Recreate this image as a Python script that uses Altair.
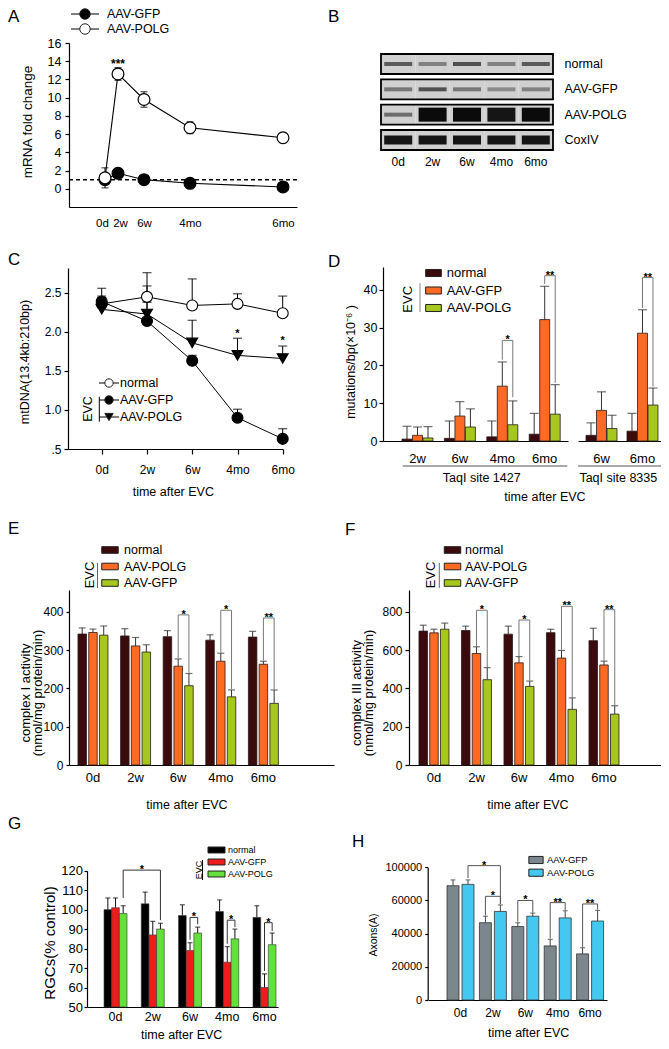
import altair as alt
import pandas as pd

FONT = "Liberation Sans"
W, H = 653, 1033


def P(v):
    return v - 8


ONE = pd.DataFrame({"k": [0]})

# ---------------- DATA ----------------
time_labels = ["0d", "2w", "6w", "4mo", "6mo"]
time_days = [0, 14, 42, 120, 180]

# A: mRNA fold change
a_series = ["AAV-GFP", "AAV-POLG"]
a_gfp = [1.0, 1.7, 1.0, 0.6, 0.2]
a_gfp_sd = [0.3, 0.2, 0.4, 0.15, 0.2]
a_polg = [1.2, 12.6, 9.8, 6.7, 5.6]
a_polg_sd = [1.1, 0.7, 0.85, 0.65, 0.55]

# B: western blot band intensity (0..1)
blot_rows = ["normal", "AAV-GFP", "AAV-POLG", "CoxIV"]
blot_lanes = ["0d", "2w", "6w", "4mo", "6mo"]
blot_normal = [0.6, 0.4, 0.65, 0.4, 0.6]
blot_gfp = [0.45, 0.65, 0.45, 0.35, 0.4]
blot_polg = [0.5, 1.0, 1.0, 0.95, 1.0]
blot_cox = [0.95, 0.95, 0.95, 0.95, 0.95]

# C: mtDNA integrity
c_series = ["normal", "AAV-GFP", "AAV-POLG"]
c_normal = [2.36, 2.45, 2.34, 2.36, 2.24]
c_normal_sd = [0.20, 0.31, 0.34, 0.13, 0.22]
c_gfp = [2.39, 2.14, 1.63, 0.90, 0.63]
c_gfp_sd = [0.07, 0.24, 0.07, 0.11, 0.13]
c_polg = [2.29, 2.23, 1.86, 1.70, 1.66]
c_polg_sd = [0.15, 0.36, 0.29, 0.22, 0.16]
c_stars = [(120, 1.94, "*"), (180, 1.85, "*")]

# D: mutations/bp
d_series = ["normal", "AAV-GFP", "AAV-POLG"]
d1_cats = ["2w", "6w", "4mo", "6mo"]
d1_normal = [0.5, 0.7, 1.1, 1.8]
d1_normal_sd = [3.4, 4.6, 4.2, 5.5]
d1_gfp = [1.5, 6.6, 14.5, 32.1]
d1_gfp_sd = [2.2, 3.8, 6.4, 8.8]
d1_polg = [0.8, 3.7, 4.3, 7.1]
d1_polg_sd = [3.0, 4.8, 6.3, 7.8]
d2_cats = ["6w", "6mo"]
d2_normal = [1.5, 2.6]
d2_normal_sd = [3.3, 4.7]
d2_gfp = [8.1, 28.5]
d2_gfp_sd = [4.9, 6.2]
d2_polg = [3.3, 9.5]
d2_polg_sd = [3.5, 4.5]
d1_brackets = [("4mo", "AAV-GFP", 21.5, "4mo", "AAV-POLG", 11.6, 26.6, "*"),
               ("6mo", "AAV-GFP", 41.5, "6mo", "AAV-POLG", 15.4, 43.7, "**")]
d2_brackets = [("6mo", "AAV-GFP", 35.2, "6mo", "AAV-POLG", 14.4, 43.2, "**")]

# E: complex I activity
e_series = ["normal", "AAV-POLG", "AAV-GFP"]
e_normal = [342, 337, 335, 326, 334]
e_normal_sd = [16, 19, 16, 14, 15]
e_polg = [346, 311, 258, 271, 263]
e_polg_sd = [9, 22, 19, 21, 8]
e_gfp = [339, 295, 207, 178, 161]
e_gfp_sd = [24, 19, 32, 18, 35]
e_brackets = [("6w", "AAV-POLG", 279, "6w", "AAV-GFP", 241, 392, "*"),
              ("4mo", "AAV-POLG", 294, "4mo", "AAV-GFP", 198, 404, "*"),
              ("6mo", "AAV-POLG", 273, "6mo", "AAV-GFP", 198, 384, "**")]

# F: complex III activity
f_normal = [700, 703, 684, 692, 650]
f_normal_sd = [31, 23, 42, 18, 65]
f_polg = [691, 583, 534, 559, 523]
f_polg_sd = [19, 35, 33, 40, 20]
f_gfp = [710, 446, 411, 291, 266]
f_gfp_sd = [32, 63, 28, 60, 44]
f_brackets = [("2w", "AAV-POLG", 622, "2w", "AAV-GFP", 512, 809, "*"),
              ("6w", "AAV-POLG", 570, "6w", "AAV-GFP", 442, 758, "*"),
              ("4mo", "AAV-POLG", 602, "4mo", "AAV-GFP", 354, 830, "**"),
              ("6mo", "AAV-POLG", 546, "6mo", "AAV-GFP", 313, 812, "**")]

# G: RGCs
g_series = ["normal", "AAV-GFP", "AAV-POLG"]
g_normal = [100, 103, 97, 99, 96]
g_normal_sd = [6, 6, 5.5, 6, 6]
g_gfp = [101, 87, 79, 73, 60]
g_gfp_sd = [5, 7, 4, 8, 7]
g_polg = [98, 90, 88, 85, 82]
g_polg_sd = [4, 3, 3, 5, 6]
g_brackets = [("0d", "AAV-POLG", 106, "2w", "AAV-POLG", 94.6, 120.3, "*"),
              ("6w", "AAV-GFP", 84.5, "6w", "AAV-POLG", 92.5, 96, "*"),
              ("4mo", "AAV-GFP", 82.5, "4mo", "AAV-POLG", 91, 94.6, "*"),
              ("6mo", "AAV-GFP", 68.5, "6mo", "AAV-POLG", 89, 93.3, "*")]

# H: axons
h_series = ["AAV-GFP", "AAV-POLG"]
h_gfp = [68900, 46600, 44300, 32600, 27800]
h_gfp_sd = [3500, 3900, 2300, 3900, 3700]
h_polg = [69700, 53400, 50500, 49500, 47600]
h_polg_sd = [2700, 3900, 1900, 4300, 6400]
h_brackets = [("0d", "AAV-POLG", 73500, "2w", "AAV-POLG", 58000, 81000, "*"),
              ("2w", "AAV-GFP", 51000, "2w", "AAV-POLG", 57800, 62500, "*"),
              ("6w", "AAV-GFP", 47200, "6w", "AAV-POLG", 52800, 60000, "*"),
              ("4mo", "AAV-GFP", 37000, "4mo", "AAV-POLG", 54300, 58700, "**"),
              ("6mo", "AAV-GFP", 32000, "6mo", "AAV-POLG", 54500, 57900, "**")]
h_tick_values = [0, 20000, 40000, 60000, 80000]
h_tick_labels = ["0", "20000", "40000", "60000", "100000"]

# colours
DEF_COL = {"normal": "#3b0a0c", "orange": "#fd6a24", "green": "#a6c81e"}
G_COL = ["#000000", "#ee1c1c", "#63e03c"]
H_COL = ["#7b878c", "#44c8f0"]


# ---------------- helpers ----------------
def lbl_expr(values, labels):
    parts = [f"datum.value == {v} ? '{l}'" for v, l in zip(values, labels)]
    return " : ".join(parts) + " : ''"


def ax_y(x_img, fs, values, expr=None, tick=4, pad=3):
    kw = dict(orient="left", offset=-P(x_img), values=values, grid=False, title=None,
              domainColor="black", domainWidth=1.2, tickColor="black", tickWidth=1.2,
              tickSize=tick, labelColor="black", labelFont=FONT, labelFontSize=fs,
              labelPadding=pad, labelFlush=False, labelOverlap=False)
    if expr is not None:
        kw["labelExpr"] = expr
    return alt.Axis(**kw)


def ax_x(y_img, fs, values=None, expr=None, tick=0, pad=5, label_offset=None):
    kw = dict(orient="bottom", offset=P(y_img) - H, grid=False, title=None, labelAngle=0,
              domain=True, domainColor="black", domainWidth=1.2, ticks=tick > 0,
              tickColor="black", tickWidth=1.2, tickSize=tick, labelColor="black",
              labelFont=FONT, labelFontSize=fs, labelPadding=pad, labelFlush=False,
              labelOverlap=False)
    if values is not None:
        kw["values"] = values
    if expr is not None:
        kw["labelExpr"] = expr
    if label_offset is not None:
        kw["labelOffset"] = label_offset
    return alt.Axis(**kw)


def text(s, x, y, fs, angle=0, align="left", baseline="alphabetic", weight="normal", color="black"):
    kw = dict(text=s, font=FONT, fontSize=fs, align=align, baseline=baseline,
              fontWeight=weight, color=color)
    if angle:
        kw["angle"] = angle
    return alt.Chart(ONE).mark_text(**kw).encode(x=alt.value(P(x)), y=alt.value(P(y)))


def vline(x, y0, y1, color="black", w=1):
    return alt.Chart(ONE).mark_rule(color=color, strokeWidth=w).encode(
        x=alt.value(P(x)), y=alt.value(P(y0)), y2=alt.value(P(y1)))


def hline(x0, x1, y, color="black", w=1):
    return alt.Chart(ONE).mark_rule(color=color, strokeWidth=w).encode(
        x=alt.value(P(x0)), x2=alt.value(P(x1)), y=alt.value(P(y)))


def rect_path(r):
    return f"M-1,-{r}H1V{r}H-1Z"


def legend(labels, y0, y1, xs, xt, fs, shapes, fills, size, stroke="#222", sw=1, line_half=0):
    df = pd.DataFrame({"lab": labels})
    ysc = alt.Scale(type="point", domain=labels, range=[P(y0), P(y1)], padding=0)
    Y = alt.Y("lab:N", scale=ysc, axis=None, sort=labels)
    out = []
    if line_half:
        out.append(alt.Chart(df).mark_rule(color="black", strokeWidth=1).encode(
            x=alt.value(P(xs - line_half)), x2=alt.value(P(xs + line_half)), y=Y))
    if not isinstance(shapes, list):
        shapes = [shapes] * len(labels)
    out.append(alt.Chart(df).mark_point(filled=True, size=size, stroke=stroke, strokeWidth=sw, opacity=1).encode(
        x=alt.value(P(xs)), y=Y,
        fill=alt.Fill("lab:N", scale=alt.Scale(domain=labels, range=fills), legend=None),
        shape=alt.Shape("lab:N", scale=alt.Scale(domain=labels, range=shapes), legend=None)))
    out.append(alt.Chart(df).mark_text(align="left", baseline="middle", font=FONT, fontSize=fs,
                                        color="black").encode(x=alt.value(P(xt)), y=Y, text="lab:N"))
    return out


def bar_panel(cats, series, vals, sds, colors, xr, pi, po, align, spi, ydom, yr, base,
              yaxis, xaxis, stroke, sw, err_color, cap, brackets, br_color, star_fs):
    out = []
    df = pd.DataFrame([{"cat": c, "ser": s, "val": v, "top": v + e}
                       for s, vs, es in zip(series, vals, sds)
                       for c, v, e in zip(cats, vs, es)])
    xs = alt.Scale(type="band", domain=cats, range=xr, paddingInner=pi, paddingOuter=po, align=align)
    xo = alt.Scale(type="band", domain=series, paddingInner=spi, paddingOuter=0)
    ys = alt.Scale(type="linear", domain=ydom, range=yr, nice=False, zero=False)

    def X(ax=None):
        return alt.X("cat:N", scale=xs, sort=cats, axis=ax)

    XO = alt.XOffset("ser:N", scale=xo, sort=series)
    out.append(alt.Chart(df).mark_rule(color=err_color, strokeWidth=1).encode(
        x=X(), xOffset=XO, y=alt.Y("val:Q", scale=ys, axis=None), y2="top:Q"))
    out.append(alt.Chart(df).mark_tick(orient="horizontal", size=cap, thickness=1.2, color=err_color).encode(
        x=X(), xOffset=XO, y=alt.Y("top:Q", scale=ys, axis=None)))
    out.append(alt.Chart(df).mark_bar(stroke=stroke, strokeWidth=sw).encode(
        x=X(xaxis), xOffset=XO, y=alt.Y("val:Q", scale=ys, axis=yaxis), y2=alt.datum(base),
        fill=alt.Fill("ser:N", scale=alt.Scale(domain=series, range=colors), legend=None)))
    if brackets:
        n, m = len(cats), len(series)
        step = (xr[1] - xr[0]) / (n - pi + 2 * po)
        bw = step * (1 - pi)
        sstep = bw / (m - spi)
        rows = []
        for i, (c1, s1, l1, c2, s2, l2, top, lab) in enumerate(brackets):
            rows += [dict(b=i, o=0, cat=c1, ser=s1, y=l1), dict(b=i, o=1, cat=c1, ser=s1, y=top),
                     dict(b=i, o=2, cat=c2, ser=s2, y=top), dict(b=i, o=3, cat=c2, ser=s2, y=l2)]
        bdf = pd.DataFrame(rows)
        out.append(alt.Chart(bdf).mark_line(color=br_color, strokeWidth=1).encode(
            x=X(), xOffset=XO, y=alt.Y("y:Q", scale=ys, axis=None), detail="b:N", order="o:Q"))
        for (c1, s1, l1, c2, s2, l2, top, lab) in brackets:
            dx = (step * (cats.index(c2) - cats.index(c1)) + sstep * (series.index(s2) - series.index(s1))) / 2
            sdf = pd.DataFrame([{"cat": c1, "ser": s1, "y": top, "lab": lab}])
            out.append(alt.Chart(sdf).mark_text(dx=dx, dy=3, align="center", baseline="alphabetic",
                                                font=FONT, fontSize=star_fs, fontWeight="bold",
                                                color="black").encode(
                x=X(), xOffset=XO, y=alt.Y("y:Q", scale=ys, axis=None), text="lab:N"))
    return out


layers = []

# ================= Panel A =================
xsA = alt.Scale(type="linear", domain=[-45, 0, 14, 42, 120, 180, 200],
                range=[P(69), P(105), P(118), P(144), P(190), P(283), P(297)], nice=False, zero=False)
ysA = alt.Scale(type="linear", domain=[-2, 16], range=[P(207), P(43)], nice=False, zero=False)
dfA = pd.DataFrame([{"ser": s, "day": d, "val": v, "lo": v - e, "hi": v + e}
                    for s, vals, sds in zip(a_series, [a_gfp, a_polg], [a_gfp_sd, a_polg_sd])
                    for d, v, e in zip(time_days, vals, sds)])
XA = alt.X("day:Q", scale=xsA, axis=None)
a_label_offset = {"condition": [{"test": "datum.value == 0", "value": -3},
                                {"test": "datum.value == 14", "value": 2}], "value": 0}
layers.append(alt.Chart(ONE).mark_rule(strokeDash=[4, 3], strokeWidth=1.5, color="black").encode(
    x=alt.XDatum(-45, scale=xsA, axis=None), x2=alt.datum(200), y=alt.YDatum(1, scale=ysA, axis=None)))
layers.append(alt.Chart(dfA).mark_line(color="black", strokeWidth=1.1).encode(
    x=alt.X("day:Q", scale=xsA, axis=ax_x(207, 11.5, time_days, lbl_expr(time_days, time_labels),
                                          tick=0, pad=10, label_offset=a_label_offset)),
    y=alt.Y("val:Q", scale=ysA, axis=ax_y(69, 12.5, list(range(0, 17, 2)), tick=4, pad=4)),
    detail="ser:N"))
layers.append(alt.Chart(dfA).mark_rule(color="black", strokeWidth=1).encode(
    x=XA, y=alt.Y("lo:Q", scale=ysA, axis=None), y2="hi:Q"))
for f in ["lo", "hi"]:
    layers.append(alt.Chart(dfA).mark_tick(orient="horizontal", size=7, thickness=1.2, color="black").encode(
        x=XA, y=alt.Y(f + ":Q", scale=ysA, axis=None)))
layers.append(alt.Chart(dfA).mark_point(filled=True, size=140, stroke="black", strokeWidth=1.2, opacity=1).encode(
    x=XA, y=alt.Y("val:Q", scale=ysA, axis=None),
    fill=alt.Fill("ser:N", scale=alt.Scale(domain=a_series, range=["black", "white"]), legend=None)))
layers.append(alt.Chart(pd.DataFrame([{"day": 14, "y": 13.3, "lab": "***"}])).mark_text(
    font=FONT, fontSize=12, fontWeight="bold", align="center", baseline="alphabetic").encode(
    x=XA, y=alt.Y("y:Q", scale=ysA, axis=None), text="lab:N"))
layers += legend(a_series, 14, 29, 85, 107, 12.5, "circle", ["black", "white"], 110, line_half=14)
layers.append(text("mRNA fold change", 28, 122, 13.5, angle=270, align="center", baseline="middle"))

# ================= Panel B =================
blot_df = pd.DataFrame([{"row": r, "lane": l, "v": v}
                        for r, vals in zip(blot_rows, [blot_normal, blot_gfp, blot_polg, blot_cox])
                        for l, v in zip(blot_lanes, vals)])
bx = alt.Scale(type="band", domain=blot_lanes, range=[P(381), P(553)], paddingInner=0, paddingOuter=0)
by = alt.Scale(type="band", domain=blot_rows, range=[P(54), P(150)], paddingInner=0.21, paddingOuter=0)
axBx = alt.Axis(orient="bottom", offset=P(150) - H, domain=False, ticks=False, tickSize=0, labelPadding=6.5,
                labelFont=FONT, labelFontSize=12, labelColor="black", labelAngle=0, title=None, grid=False)
axBy = alt.Axis(orient="right", offset=P(553) - W, domain=False, ticks=False, tickSize=0, labelPadding=11,
                labelFont=FONT, labelFontSize=12.5, labelColor="black", title=None, grid=False)
layers.append(alt.Chart(blot_df).mark_rect(fill="#d0d0d0").encode(
    x=alt.X("lane:N", scale=bx, sort=blot_lanes, axis=axBx),
    y=alt.Y("row:N", scale=by, sort=blot_rows, axis=axBy)))
for r, th_thick in zip(blot_rows, [5, 5, 14, 9]):
    for strong, th in [(False, 4), (True, th_thick)]:
        test = (alt.datum.row == r) & ((alt.datum.v >= 0.8) if strong else (alt.datum.v < 0.8))
        layers.append(alt.Chart(blot_df).transform_filter(test).mark_tick(
            orient="horizontal", size=28, thickness=th, color="black").encode(
            x=alt.X("lane:N", scale=bx, sort=blot_lanes, axis=None),
            y=alt.Y("row:N", scale=by, sort=blot_rows, axis=None),
            opacity=alt.Opacity("v:Q", scale=alt.Scale(domain=[0, 1], range=[0, 0.95]), legend=None)))
layers.append(alt.Chart(pd.DataFrame({"row": blot_rows})).mark_rect(
    fill="white", fillOpacity=0, stroke="black", strokeWidth=1.8).encode(
    x=alt.value(P(381)), x2=alt.value(P(553)), y=alt.Y("row:N", scale=by, sort=blot_rows, axis=None)))

# ================= Panel C =================
xsC = alt.Scale(type="linear", domain=[-20, 0, 14, 42, 120, 180],
                range=[P(68), P(101.7), P(147), P(192.2), P(237.5), P(282.7)], nice=False, zero=False)
ysC = alt.Scale(type="linear", domain=[0.5, 2.82], range=[P(449), P(268)], nice=False, zero=False)
dfC = pd.DataFrame([{"ser": s, "day": d, "val": v, "top": v + e}
                    for s, vals, sds in zip(c_series, [c_normal, c_gfp, c_polg], [c_normal_sd, c_gfp_sd, c_polg_sd])
                    for d, v, e in zip(time_days, vals, sds)])
XC = alt.X("day:Q", scale=xsC, axis=None)
c_yv = [0.5, 1.0, 1.5, 2.0, 2.5]
layers.append(alt.Chart(dfC).mark_line(color="black", strokeWidth=1).encode(
    x=alt.X("day:Q", scale=xsC, axis=ax_x(449, 12, time_days, lbl_expr(time_days, time_labels), tick=5, pad=10)),
    y=alt.Y("val:Q", scale=ysC, axis=ax_y(68, 12, c_yv, lbl_expr(c_yv, [".5", "1.0", "1.5", "2.0", "2.5"]), tick=4, pad=3)),
    detail="ser:N"))
layers.append(alt.Chart(dfC).mark_rule(color="black", strokeWidth=1).encode(
    x=XC, y=alt.Y("val:Q", scale=ysC, axis=None), y2="top:Q"))
layers.append(alt.Chart(dfC).mark_tick(orient="horizontal", size=9, thickness=1.2, color="black").encode(
    x=XC, y=alt.Y("top:Q", scale=ysC, axis=None)))
layers.append(alt.Chart(dfC).mark_point(filled=True, size=120, stroke="black", strokeWidth=1.1, opacity=1).encode(
    x=XC, y=alt.Y("val:Q", scale=ysC, axis=None),
    fill=alt.Fill("ser:N", scale=alt.Scale(domain=c_series, range=["white", "black", "black"]), legend=None),
    shape=alt.Shape("ser:N", scale=alt.Scale(domain=c_series, range=["circle", "circle", "triangle-down"]), legend=None)))
layers.append(alt.Chart(pd.DataFrame([{"day": d, "y": y, "lab": l} for d, y, l in c_stars])).mark_text(
    font=FONT, fontSize=11, fontWeight="bold", align="center", baseline="alphabetic").encode(
    x=XC, y=alt.Y("y:Q", scale=ysC, axis=None), text="lab:N"))
layers += legend(c_series, 383, 417, 109, 120, 12.5, ["circle", "circle", "triangle-down"],
                 ["white", "black", "black"], 70, line_half=10)
layers.append(text("EVC", 88.3, 409, 12.5, angle=270, align="center", baseline="middle"))
layers.append(vline(99.3, 396.7, 421.7))
layers.append(text("mtDNA(13.4kb:210bp)", 25, 362, 12.5, angle=270, align="center", baseline="middle"))
layers.append(text("time after EVC", 173.3, 491.7, 12.5, align="center", baseline="middle"))

# ================= Panel D =================
d_cols = [DEF_COL["normal"], DEF_COL["orange"], DEF_COL["green"]]
ysD_dom, ysD_rng = [0, 46], [P(441), P(267)]
layers += bar_panel(d1_cats, d_series, [d1_normal, d1_gfp, d1_polg], [d1_normal_sd, d1_gfp_sd, d1_polg_sd],
                    d_cols, [P(383), P(568)], 0.269, 0.316, 0.709, 0.05, ysD_dom, ysD_rng, 0,
                    ax_y(383, 12.5, [0, 10, 20, 30, 40], tick=4, pad=2), ax_x(441, 13, pad=11.7),
                    "#2a1a1a", 0.8, "#333333", 9, d1_brackets, "#777777", 11)
layers += bar_panel(d2_cats, d_series, [d2_normal, d2_gfp, d2_polg], [d2_normal_sd, d2_gfp_sd, d2_polg_sd],
                    d_cols, [P(578), P(668)], 0.244, 0.22, 0.444, 0.05, ysD_dom, ysD_rng, 0,
                    None, ax_x(441, 13, pad=11.7),
                    "#2a1a1a", 0.8, "#333333", 9, d2_brackets, "#777777", 11)
layers += legend(d_series, 273, 308, 433.5, 446.7, 13, rect_path(0.45), d_cols, 246)
layers.append(text("EVC", 408.3, 299.3, 13, angle=270, align="center", baseline="middle"))
layers.append(vline(420, 283, 312, "#888888"))
layers.append(text("mutations/bp(\u00d710\u207b\u2076 )", 351, 362, 12.5, angle=270, align="center", baseline="middle"))
layers.append(hline(402.7, 567.3, 466, "#555555"))
layers.append(hline(578, 667, 466, "#555555"))
layers.append(text("TaqI site 1427", 481.7, 478, 12.5, align="center", baseline="middle"))
layers.append(text("TaqI site 8335", 618.3, 478, 12.5, align="center", baseline="middle"))
layers.append(text("time after EVC", 545, 496.7, 12.5, align="center", baseline="middle"))

# ================= Panel E =================
ef_cols = [DEF_COL["normal"], DEF_COL["orange"], DEF_COL["green"]]
layers += bar_panel(time_labels, e_series, [e_normal, e_polg, e_gfp], [e_normal_sd, e_polg_sd, e_gfp_sd],
                    ef_cols, [P(69), P(334)], 0.296, 0.758, 0.139, 0.21, [0, 457], [P(765), P(590)], 0,
                    ax_y(69, 12, [0, 100, 200, 300, 400], tick=3, pad=3), ax_x(765, 13, pad=6.5),
                    "#2a1a1a", 0.8, "#333333", 7, e_brackets, "#777777", 11)
layers += legend(e_series, 550, 583, 110, 124, 12.5, rect_path(0.4), ef_cols, 272)
layers.append(text("EVC", 90, 575, 13, angle=270, align="center", baseline="middle"))
layers.append(vline(97.5, 563, 588, "#666666"))
layers.append(text("complex I activity", 26, 693, 13, angle=270, align="center", baseline="middle"))
layers.append(text("(nmol/mg protein/min)", 38, 693, 13, angle=270, align="center", baseline="middle"))
layers.append(text("time after EVC", 187, 805, 12.5, align="center", baseline="middle"))

# ================= Panel F =================
layers += bar_panel(time_labels, e_series, [f_normal, f_polg, f_gfp], [f_normal_sd, f_polg_sd, f_gfp_sd],
                    ef_cols, [P(409), P(667)], 0.294, 0.682, 0.172, 0.21, [0, 915], [P(765), P(590)], 0,
                    ax_y(409, 12, [0, 200, 400, 600, 800], tick=4, pad=3), ax_x(765, 13, pad=6.5),
                    "#2a1a1a", 0.8, "#333333", 7, f_brackets, "#777777", 11)
layers += legend(e_series, 550, 583, 452.5, 465, 12.5, rect_path(0.4), ef_cols, 272)
layers.append(text("EVC", 431, 575, 13, angle=270, align="center", baseline="middle"))
layers.append(vline(439.3, 563, 588, "#666666"))
layers.append(text("complex III activity", 357, 693, 13, angle=270, align="center", baseline="middle"))
layers.append(text("(nmol/mg protein/min)", 369, 693, 13, angle=270, align="center", baseline="middle"))
layers.append(text("time after EVC", 528, 805, 12.5, align="center", baseline="middle"))

# ================= Panel G =================
layers += bar_panel(time_labels, g_series, [g_normal, g_gfp, g_polg], [g_normal_sd, g_gfp_sd, g_polg_sd],
                    G_COL, [P(87), P(278)], 0.383, 0.2555, 0.895, 0.0, [50, 120], [P(1007), P(870.7)], 50,
                    ax_y(87, 13, list(range(50, 121, 10)), tick=3, pad=1.5), ax_x(1007, 12.5, pad=3),
                    "#333333", 0.6, "#111111", 5, g_brackets, "#333333", 11)
layers += legend(g_series, 850, 874, 216.5, 228, 9, rect_path(0.35), G_COL, 289)
layers.append(text("EVC", 199, 870, 9, angle=270, align="center", baseline="middle"))
layers.append(vline(202.5, 860, 880))
layers.append(text("RGCs(% control)", 50, 943, 15, angle=270, align="center", baseline="middle"))
layers.append(text("time after EVC", 181.7, 1034.5, 12.5, align="center", baseline="middle"))

# ================= Panel H =================
layers += bar_panel(time_labels, h_series, [h_gfp, h_polg], [h_gfp_sd, h_polg_sd],
                    H_COL, [P(428), P(607)], 0.167, 0.346, 0.848, 0.2, [0, 80000], [P(1000), P(867.3)], 0,
                    ax_y(427.7, 11, h_tick_values, lbl_expr(h_tick_values, h_tick_labels), tick=3, pad=3),
                    ax_x(1000, 12, pad=7),
                    "#333333", 0.8, "#444444", 5, h_brackets, "#555555", 11)
layers += legend(h_series, 860, 872.7, 536, 547, 9.5, rect_path(0.5), H_COL, 204)
layers.append(text("Axons(A)", 374, 935, 10.5, angle=270, align="center", baseline="middle"))
layers.append(text("time after EVC", 528.7, 1033, 12.5, align="center", baseline="middle"))

# ================= Panel letters =================
for lab, x, y in [("A", 8, 22), ("B", 328, 22), ("C", 8, 265), ("D", 328, 267),
                  ("E", 8, 534), ("F", 345, 535), ("G", 8, 829), ("H", 352, 847)]:
    layers.append(text(lab, x, y, 17))

chart = alt.layer(*layers).resolve_scale(
    x="independent", y="independent", xOffset="independent", fill="independent",
    shape="independent", opacity="independent"
).resolve_axis(x="independent", y="independent").properties(
    width=W, height=H, autosize=alt.AutoSizeParams(type="none"), padding=0, background="white"
).configure_view(strokeWidth=0)

chart.save("out.html", embed_options={"renderer": "svg", "actions": False})
